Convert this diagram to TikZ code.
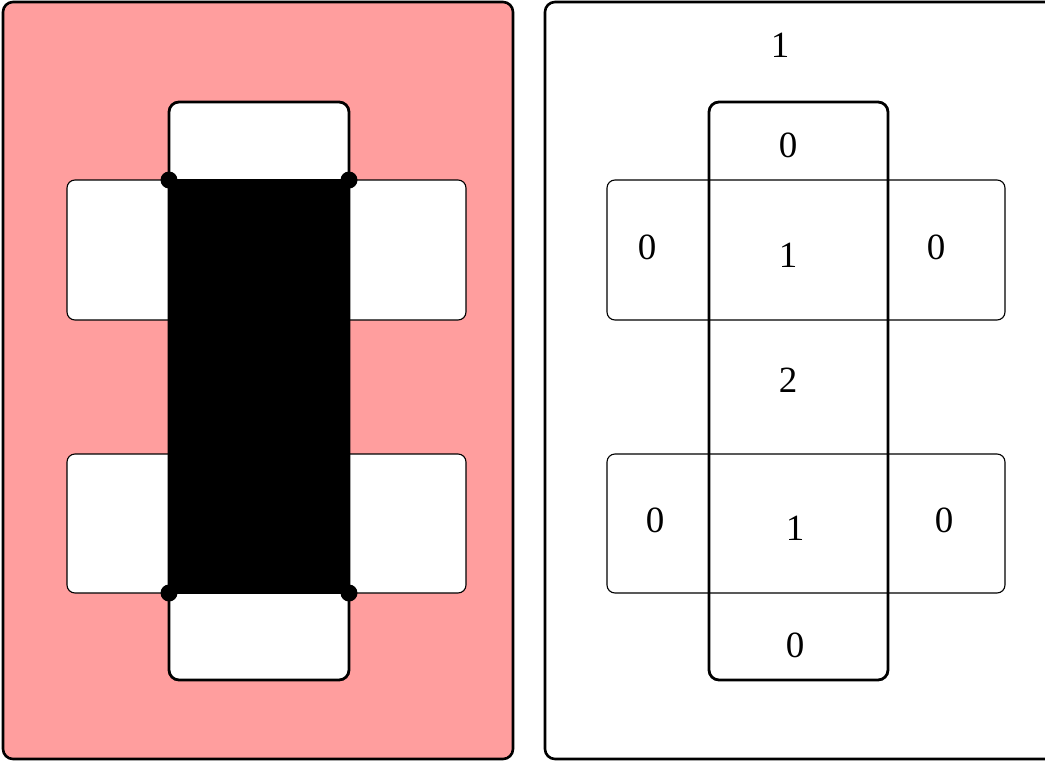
\documentclass[tikz,border=0pt]{standalone}
\usepackage{fontspec}
\setmainfont{Liberation Serif}
\definecolor{pinkfill}{RGB}{255,158,158}
\tikzset{
  frame/.style={draw=black, line width=2.6pt, rounded corners=10pt},
  vbox/.style={draw=black, fill=white, line width=2.8pt, rounded corners=10pt},
  hbox/.style={draw=black, fill=white, line width=1.1pt, rounded corners=8pt},
  hboxr/.style={draw=black, line width=1.1pt, rounded corners=8pt},
  dot/.style={circle, fill=black, inner sep=0pt, minimum size=17pt},
  lbl/.style={font=\fontsize{37}{40}\selectfont, inner sep=0pt}
}
\begin{document}
\begin{tikzpicture}[x=1pt,y=-1pt]
\useasboundingbox (0,0) rectangle (1045,761);
% left panel
\draw[frame, fill=pinkfill] (3,2) rectangle (513,759);
\draw[hbox] (67,180) rectangle (466,320);
\draw[hbox] (67,454) rectangle (466,593);
\draw[vbox] (169,102) rectangle (349,680);
\fill[black] (169,180) rectangle (349,593);
\draw[black, line width=1.1pt] (169,180) -- (349,180) (169,593) -- (349,593);
\node[dot] (d1) at (169,180) {};
\node[dot] (d2) at (349,180) {};
\node[dot] (d3) at (169,593) {};
\node[dot] (d4) at (349,593) {};
% right panel
\draw[frame, fill=white] (545,2) rectangle (1055,759);
\draw[hboxr] (607,180) rectangle (1005,320);
\draw[hboxr] (607,454) rectangle (1005,593);
\draw[vbox, fill=none] (709,102) rectangle (888,680);
\node[lbl] (t1) at (780,45) {1};
\node[lbl] (t2) at (788,145) {0};
\node[lbl] (t3) at (647,247) {0};
\node[lbl] (t4) at (788,255) {1};
\node[lbl] (t5) at (936,247) {0};
\node[lbl] (t6) at (788,380) {2};
\node[lbl] (t7) at (655,520) {0};
\node[lbl] (t8) at (795,528) {1};
\node[lbl] (t9) at (944,520) {0};
\node[lbl] (t10) at (795,645) {0};
\end{tikzpicture}
\end{document}
